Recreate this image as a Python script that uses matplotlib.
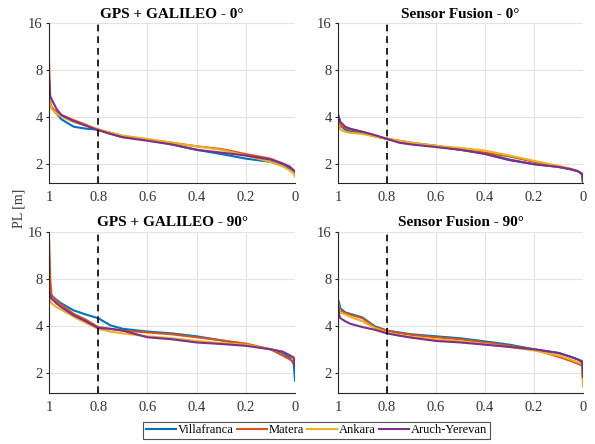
import numpy as np
import matplotlib.pyplot as plt
from matplotlib.ticker import FixedLocator, FixedFormatter, NullLocator

plt.rcParams['font.family'] = ['Liberation Serif', 'DejaVu Serif']

# probability axis (reversed, 1 -> 0)
p = [1.0, 0.995, 0.99, 0.97, 0.95, 0.9, 0.85, 0.8, 0.75, 0.7,
     0.6, 0.5, 0.4, 0.3, 0.2, 0.1, 0.05, 0.02, 0.005, 0.0]

sites = ['Villafranca', 'Matera', 'Ankara', 'Aruch-Yerevan']
colors = ['#0072BD', '#D95319', '#EDB120', '#7E2F8E']
titles = ['GPS + GALILEO - 0°', 'Sensor Fusion - 0°',
          'GPS + GALILEO - 90°', 'Sensor Fusion - 90°']

# PL [m] per site, GPS + GALILEO 0°
gg0_villafranca = [6.0, 5.0, 4.6, 4.2, 3.85, 3.45, 3.35, 3.3, 3.15, 3.0, 2.85, 2.65, 2.45, 2.3, 2.15, 2.05, 1.95, 1.85, 1.8, 1.75]
gg0_matera = [9.0, 4.7, 4.6, 4.3, 4.1, 3.8, 3.55, 3.3, 3.1, 2.95, 2.85, 2.72, 2.58, 2.48, 2.3, 2.15, 2.0, 1.9, 1.8, 1.75]
gg0_ankara = [6.0, 5.0, 4.5, 4.2, 4.0, 3.7, 3.5, 3.33, 3.15, 3.02, 2.88, 2.72, 2.58, 2.45, 2.25, 2.05, 1.92, 1.8, 1.72, 1.65]
gg0_aruch = [7.0, 5.4, 5.2, 4.5, 4.1, 3.75, 3.5, 3.28, 3.1, 2.95, 2.8, 2.65, 2.45, 2.35, 2.25, 2.12, 2.0, 1.9, 1.8, 1.78]

# Sensor Fusion 0°
sf0_villafranca = [4.2, 3.9, 3.5, 3.3, 3.2, 3.15, 3.0, 2.88, 2.8, 2.72, 2.6, 2.45, 2.32, 2.12, 1.98, 1.9, 1.83, 1.78, 1.72, 1.5]
sf0_matera = [3.8, 3.7, 3.5, 3.4, 3.3, 3.2, 3.0, 2.88, 2.78, 2.68, 2.58, 2.45, 2.35, 2.22, 2.05, 1.92, 1.84, 1.78, 1.7, 1.5]
sf0_ankara = [3.6, 3.5, 3.3, 3.2, 3.15, 3.1, 2.98, 2.9, 2.8, 2.72, 2.6, 2.52, 2.42, 2.25, 2.08, 1.93, 1.85, 1.78, 1.72, 1.5]
sf0_aruch = [4.0, 3.9, 3.7, 3.45, 3.35, 3.2, 3.05, 2.88, 2.72, 2.65, 2.55, 2.45, 2.3, 2.1, 1.98, 1.9, 1.84, 1.78, 1.72, 1.5]

# GPS + GALILEO 90°
gg90_villafranca = [7.0, 6.6, 6.3, 5.9, 5.6, 5.05, 4.75, 4.5, 4.05, 3.85, 3.7, 3.6, 3.45, 3.25, 3.05, 2.85, 2.7, 2.5, 2.3, 1.8]
gg90_matera = [14.5, 8.0, 6.3, 5.8, 5.5, 4.8, 4.4, 3.95, 3.85, 3.75, 3.65, 3.55, 3.4, 3.25, 3.1, 2.85, 2.6, 2.45, 2.35, 2.4]
gg90_ankara = [6.0, 5.8, 5.6, 5.3, 5.1, 4.6, 4.2, 3.85, 3.7, 3.6, 3.45, 3.35, 3.22, 3.12, 3.05, 2.85, 2.75, 2.6, 2.55, 2.5]
gg90_aruch = [6.5, 6.3, 6.0, 5.6, 5.3, 4.7, 4.3, 3.9, 3.85, 3.75, 3.4, 3.3, 3.15, 3.08, 3.0, 2.85, 2.75, 2.6, 2.5, 2.2]

# Sensor Fusion 90°
sf90_villafranca = [5.9, 5.6, 5.2, 4.9, 4.8, 4.55, 4.0, 3.75, 3.65, 3.55, 3.45, 3.35, 3.2, 3.05, 2.85, 2.7, 2.55, 2.45, 2.35, 1.8]
sf90_matera = [5.8, 5.3, 5.0, 4.85, 4.75, 4.5, 3.95, 3.75, 3.62, 3.52, 3.4, 3.3, 3.15, 3.0, 2.85, 2.55, 2.4, 2.3, 2.25, 1.75]
sf90_ankara = [5.7, 5.2, 4.9, 4.75, 4.6, 4.3, 3.9, 3.65, 3.5, 3.42, 3.3, 3.2, 3.08, 2.95, 2.8, 2.6, 2.45, 2.35, 2.3, 1.65]
sf90_aruch = [5.9, 4.7, 4.5, 4.3, 4.15, 3.95, 3.8, 3.6, 3.48, 3.38, 3.22, 3.15, 3.05, 2.95, 2.85, 2.7, 2.55, 2.45, 2.4, 1.9]

panels = [
    [gg0_villafranca, gg0_matera, gg0_ankara, gg0_aruch],
    [sf0_villafranca, sf0_matera, sf0_ankara, sf0_aruch],
    [gg90_villafranca, gg90_matera, gg90_ankara, gg90_aruch],
    [sf90_villafranca, sf90_matera, sf90_ankara, sf90_aruch],
]

y_ticks = [2, 4, 8, 16]
x_ticks = [1, 0.8, 0.6, 0.4, 0.2, 0]
x_labels = ['1', '0.8', '0.6', '0.4', '0.2', '0']

fig = plt.figure(figsize=(5.95, 4.44), dpi=100)
positions = [
    [0.0824, 0.588, 0.4134, 0.360],
    [0.568, 0.588, 0.412, 0.360],
    [0.0824, 0.115, 0.4134, 0.3626],
    [0.568, 0.115, 0.412, 0.3626],
]

handles = []
for pos, title, series in zip(positions, titles, panels):
    ax = fig.add_axes(pos)
    for name, c, y in zip(sites, colors, series):
        h, = ax.plot(p, y, color=c, lw=1.5, label=name)
        if len(handles) < 4:
            handles.append(h)
    ax.axvline(0.8, color='black', ls='--', lw=1.2, dashes=(4, 3))
    ax.set_yscale('log', base=2)
    ax.set_ylim(1.5, 16)
    ax.set_xlim(1, 0)
    ax.yaxis.set_major_locator(FixedLocator(y_ticks))
    ax.yaxis.set_major_formatter(FixedFormatter([str(t) for t in y_ticks]))
    ax.yaxis.set_minor_locator(NullLocator())
    ax.xaxis.set_major_locator(FixedLocator(x_ticks))
    ax.xaxis.set_major_formatter(FixedFormatter(x_labels))
    ax.grid(True, color='#e3e3e3', lw=0.8)
    ax.set_axisbelow(True)
    for s in ['top', 'right']:
        ax.spines[s].set_visible(False)
    for s in ['left', 'bottom']:
        ax.spines[s].set_color('#262626')
        ax.spines[s].set_linewidth(0.8)
    ax.tick_params(axis='both', labelsize=10.5, colors='#262626', labelcolor='#333333',
                   length=2.5, direction='out')
    ax.tick_params(axis='x', pad=6, length=0)
    ax.tick_params(axis='y', pad=2)
    ax.set_title(title, fontsize=11, fontweight='bold', pad=4)

fig.text(0.032, 0.53, 'PL [m]', rotation=90, va='center', ha='center', fontsize=10,
         color='#333333')

leg = fig.legend(handles, sites, loc='center', bbox_to_anchor=(0.532, 0.0315), ncol=4,
                 fontsize=9, frameon=True, fancybox=False, edgecolor='#262626',
                 handlelength=2.4, handletextpad=0.15, columnspacing=0.25,
                 borderpad=0.2, borderaxespad=0)
leg.get_frame().set_linewidth(0.8)

fig.savefig('out.png', dpi=100)
